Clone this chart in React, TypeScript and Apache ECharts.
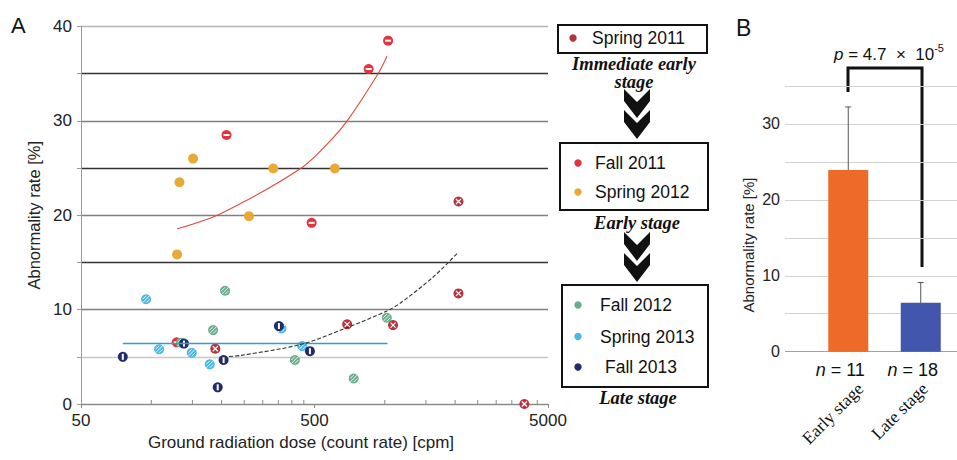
import React, { useEffect, useRef } from 'react';
import * as echarts from 'echarts';

// ---------- Panel A data: ground radiation dose [cpm] vs abnormality rate [%] ----------
const groupNames = ['Spring 2011', 'Fall 2011', 'Spring 2012', 'Fall 2012', 'Spring 2013', 'Fall 2013'];
const groupColors = ['#b8323e', '#e2343f', '#e9a935', '#6aae8e', '#4db6e2', '#232c6b'];

const spring2011Dose = [188, 690, 1085, 2068, 2068, 3960];
const spring2011Rate = [5.86, 8.44, 8.36, 21.46, 11.72, 0];
const fall2011Dose = [210, 486, 853, 1033, 128.5];
const fall2011Rate = [28.5, 19.2, 35.5, 38.5, 6.53];
const spring2012Dose = [132, 151, 333, 262, 611, 129];
const spring2012Rate = [23.5, 26.0, 24.95, 19.9, 24.95, 15.85];
const fall2012Dose = [207, 184, 134, 412, 1020, 736];
const fall2012Rate = [12.0, 7.83, 6.5, 4.66, 9.14, 2.7];
const spring2013Dose = [95, 108, 149, 178, 361, 443];
const spring2013Rate = [11.1, 5.8, 5.43, 4.2, 8.0, 6.14];
const fall2013Dose = [75.5, 138, 204, 192.5, 352, 478];
const fall2013Rate = [5.0, 6.4, 4.66, 1.77, 8.26, 5.6];

// trend lines
const earlyTrendDose = [129, 198, 436, 585, 690, 936, 1022];
const earlyTrendRate = [18.56, 20.17, 24.95, 27.9, 30.0, 35.0, 36.85];
const spring2011TrendDose = [203, 242, 443, 690, 1020, 1167, 1616, 2068];
const spring2011TrendRate = [5.0, 5.15, 6.35, 8.1, 9.85, 10.7, 13.48, 16.1];
const lateTrendDose = [75.5, 1027];
const lateTrendRate = [6.4, 6.4];

const xMinDose = 50;
const xMinorTickDoses = [100, 150, 200, 250, 300, 350, 400, 450, 1000, 1500, 2000, 2500, 3000, 3500, 4000, 4500];

// ---------- Panel B data ----------
const stageNames = ['Early stage', 'Late stage'];
const stageN = [11, 18];
const stageMean = [23.94, 6.46];
const stageSD = [8.3, 2.65];
const stageColors = ['#ee6a28', '#4256ae'];

const sans = "'Liberation Sans', Arial, Helvetica, sans-serif";
const serif = "'Liberation Serif', 'Times New Roman', serif";

const lx = (d: number) => Math.log10(d / xMinDose);
const pts = (xs: number[], ys: number[]) => xs.map((x, i) => [lx(x), ys[i]]);

const groupDose = [spring2011Dose, fall2011Dose, spring2012Dose, fall2012Dose, spring2013Dose, fall2013Dose];
const groupRate = [spring2011Rate, fall2011Rate, spring2012Rate, fall2012Rate, spring2013Rate, fall2013Rate];

const stripe = 'path://M0,10L10,0M0,5L5,0M5,10L10,5';
const marks: any[] = [
  { symbol: 'path://M0,0L10,10M10,0L0,10', size: 5, color: 'rgba(0,0,0,0)', border: '#ffffff', bw: 1.3 },
  { symbol: 'rect', size: [6, 2], color: '#ffffff', border: 'rgba(0,0,0,0)', bw: 0 },
  null,
  { symbol: stripe, size: 7, color: 'rgba(0,0,0,0)', border: 'rgba(255,255,255,0.85)', bw: 1 },
  { symbol: stripe, size: 7, color: 'rgba(0,0,0,0)', border: 'rgba(255,255,255,0.85)', bw: 1 },
  { symbol: 'rect', size: [2, 6], color: '#ffffff', border: 'rgba(0,0,0,0)', bw: 0 },
];

function buildOption(): any {
  const series: any[] = [];

  // minor ticks on the log axis
  series.push({
    type: 'custom',
    xAxisIndex: 0,
    yAxisIndex: 0,
    silent: true,
    clip: false,
    data: xMinorTickDoses.map((d) => [lx(d), 0]),
    renderItem: (_p: any, api: any) => {
      const c = api.coord([api.value(0), 0]);
      return { type: 'line', shape: { x1: c[0], y1: c[1], x2: c[0], y2: c[1] - 4 }, style: { stroke: '#888', lineWidth: 1 } };
    },
  });

  series.push({
    type: 'line', xAxisIndex: 0, yAxisIndex: 0, silent: true, symbol: 'none',
    data: pts(lateTrendDose, lateTrendRate),
    lineStyle: { color: '#2f9fd0', width: 1.5 },
  });
  series.push({
    type: 'line', xAxisIndex: 0, yAxisIndex: 0, silent: true, symbol: 'none', smooth: 0.3,
    data: pts(spring2011TrendDose, spring2011TrendRate),
    lineStyle: { color: '#333', width: 1.1, type: [4, 2] },
  });
  series.push({
    type: 'line', xAxisIndex: 0, yAxisIndex: 0, silent: true, symbol: 'none', smooth: 0.3,
    data: pts(earlyTrendDose, earlyTrendRate),
    lineStyle: { color: '#e2483c', width: 1.1 },
  });

  groupNames.forEach((name, gi) => {
    const data = pts(groupDose[gi], groupRate[gi]);
    series.push({
      type: 'scatter', name, xAxisIndex: 0, yAxisIndex: 0, symbol: 'circle', symbolSize: 10,
      data, itemStyle: { color: groupColors[gi], opacity: 1 },
    });
    const m = marks[gi];
    if (m) {
      series.push({
        type: 'scatter', name: name + ' mark', xAxisIndex: 0, yAxisIndex: 0, silent: true,
        symbol: m.symbol, symbolSize: m.size, data,
        itemStyle: { color: m.color, borderColor: m.border, borderWidth: m.bw, opacity: 1 },
      });
    }
  });

  // Panel B bars
  series.push({
    type: 'bar', xAxisIndex: 2, yAxisIndex: 2, barWidth: 40,
    data: stageMean.map((v, i) => ({ value: v, itemStyle: { color: stageColors[i] } })),
  });
  series.push({
    type: 'custom', xAxisIndex: 2, yAxisIndex: 2, silent: true, clip: false,
    data: stageMean.map((v, i) => [i, v - stageSD[i], v + stageSD[i]]),
    renderItem: (_p: any, api: any) => {
      const x = api.value(0);
      const top = api.coord([x, api.value(2)]);
      const bot = api.coord([x, api.value(1)]);
      const st = { stroke: '#555', lineWidth: 1 };
      return {
        type: 'group',
        children: [
          { type: 'line', shape: { x1: top[0], y1: top[1], x2: bot[0], y2: bot[1] }, style: st },
          { type: 'line', shape: { x1: top[0] - 3, y1: top[1], x2: top[0] + 3, y2: top[1] }, style: st },
          { type: 'line', shape: { x1: bot[0] - 3, y1: bot[1], x2: bot[0] + 3, y2: bot[1] }, style: st },
        ],
      };
    },
  });

  const chevron = (cx: number, y0: number) => ({
    type: 'polygon',
    shape: { points: [[cx - 13, y0], [cx, y0 + 13], [cx + 13, y0], [cx + 13, y0 + 12], [cx, y0 + 29], [cx - 13, y0 + 12]] },
    style: { fill: '#111' },
  });
  const txt = (x: number, y: number, text: string, extra: any = {}) => ({
    type: 'text', x, y,
    style: { text, fontSize: 17.5, fontFamily: sans, fill: '#111', align: 'left', verticalAlign: 'middle', ...extra },
  });
  const dot = (x: number, y: number, gi: number) => ({
    type: 'circle', shape: { cx: x, cy: y, r: 3.7 }, style: { fill: groupColors[gi] },
  });
  const box = (x: number, y: number, w: number, h: number) => ({
    type: 'rect', shape: { x, y, width: w, height: h }, style: { fill: '#fff', stroke: '#111', lineWidth: 2 },
  });
  const stageTxt = (x: number, y: number, text: string) =>
    txt(x, y, text, { fontFamily: serif, fontStyle: 'italic', fontWeight: 'bold', fontSize: 18.5, align: 'center' });

  const graphic: any[] = [
    txt(11, 25, 'A', { fontSize: 22 }),
    txt(736, 28, 'B', { fontSize: 23 }),
    txt(301, 442, 'Ground radiation dose (count rate) [cpm]', { fontSize: 17, align: 'center', fill: '#222' }),
    {
      type: 'text', x: 748, y: 245, rotation: Math.PI / 2,
      style: { text: 'Abnormality rate [%]', fontSize: 15, fontFamily: sans, fill: '#222', align: 'center', verticalAlign: 'middle' },
    },
    // legend boxes
    box(558, 25, 149, 28),
    dot(573, 38, 0), txt(592, 38, groupNames[0]),
    stageTxt(634, 63.5, 'Immediate early'),
    stageTxt(634, 82, 'stage'),
    chevron(637, 89), chevron(637, 110),
    box(560, 143, 148, 67),
    dot(578, 163, 1), txt(595, 163, groupNames[1]),
    dot(578, 192, 2), txt(595, 192, groupNames[2]),
    stageTxt(637, 223, 'Early stage'),
    chevron(637, 232), chevron(637, 253),
    box(562, 285, 146, 102),
    dot(578, 305, 3), txt(600, 305, groupNames[3]),
    dot(578, 336.5, 4), txt(600, 336.5, groupNames[4]),
    dot(578, 367, 5), txt(605, 367, groupNames[5]),
    stageTxt(638, 398, 'Late stage'),
    // significance bracket
    {
      type: 'polyline',
      shape: { points: [[848, 92], [848, 68], [922, 68], [922, 267]] },
      style: { stroke: '#111', lineWidth: 3, fill: 'none' },
    },
    {
      type: 'text', x: 889, y: 54,
      style: {
        text: '{i|p} = 4.7  \u00d7  10{s|-5}',
        fontSize: 17, fontFamily: sans, fill: '#111', align: 'center', verticalAlign: 'middle',
        rich: {
          i: { fontStyle: 'italic', fontSize: 17, fontFamily: sans, fill: '#111' },
          s: { fontSize: 11, fontFamily: sans, fill: '#111', padding: [0, 0, 12, 0] },
        },
      },
    },
  ];

  const splitA = ['#999', '#c8c8c8', '#808080', '#333333', '#808080', '#333333', '#808080', '#333333', '#b5b5b5'];
  const splitB = ['#a0a0a0', '#d2d2d2', '#d2d2d2', '#d2d2d2', '#d2d2d2', '#d2d2d2', '#d2d2d2', '#d2d2d2'];

  return {
    animation: false,
    backgroundColor: '#fff',
    textStyle: { fontFamily: sans },
    grid: [
      { left: 81, right: 409, top: 26.5, bottom: 56 },
      { left: 785, right: 0, top: 86, bottom: 108.3 },
      { left: 812, width: 148, top: 86, bottom: 108.3 },
      { left: 828, width: 148, top: 86, bottom: 108.3 },
    ],
    xAxis: [
      {
        type: 'value', gridIndex: 0, min: 0, max: 2, interval: 1,
        axisLine: { show: true, onZero: false, lineStyle: { color: '#888', width: 1 } },
        axisTick: { show: true, length: 4, lineStyle: { color: '#888' } },
        splitLine: { show: false },
        axisLabel: {
          fontSize: 17, color: '#222', margin: 8,
          formatter: (v: number) => String(Math.round(xMinDose * Math.pow(10, v))),
        },
      },
      { type: 'value', gridIndex: 1, min: 0, max: 1, show: false },
      {
        type: 'category', gridIndex: 2, data: stageNames,
        axisLine: { show: false }, axisTick: { show: false },
        axisLabel: {
          interval: 0, hideOverlap: false,
          fontSize: 18, color: '#111', margin: 9, padding: [0, 16, 0, 0],
          formatter: (_v: string, i: number) => `{i|n} = ${stageN[i]}`,
          rich: { i: { fontStyle: 'italic', fontSize: 18, color: '#111' } },
        },
      },
      {
        type: 'category', gridIndex: 3, data: stageNames,
        axisLine: { show: false }, axisTick: { show: false },
        axisLabel: { interval: 0, fontSize: 17.5, fontFamily: serif, color: '#111', rotate: 45, margin: 34 },
      },
    ],
    yAxis: [
      {
        type: 'value', gridIndex: 0, min: 0, max: 40, interval: 5,
        name: 'Abnormality rate [%]', nameLocation: 'middle', nameGap: 39,
        nameTextStyle: { fontSize: 16.5, color: '#222', fontFamily: sans },
        axisLine: { show: true, lineStyle: { color: '#999' } },
        axisTick: { show: true, length: 4, lineStyle: { color: '#999' } },
        axisLabel: { fontSize: 17, color: '#222', margin: 9, formatter: (v: number) => (v % 10 === 0 ? String(v) : '') },
        splitLine: { show: true, lineStyle: { color: splitA, width: 1.3 } },
      },
      {
        type: 'value', gridIndex: 1, min: 0, max: 35, interval: 5,
        axisLine: { show: false }, axisTick: { show: false },
        axisLabel: { fontSize: 16, color: '#222', margin: 5, formatter: (v: number) => (v % 10 === 0 ? String(v) : '') },
        splitLine: { show: true, lineStyle: { color: splitB, width: 1 } },
      },
      { type: 'value', gridIndex: 2, min: 0, max: 35, show: false },
      { type: 'value', gridIndex: 3, min: 0, max: 35, show: false },
    ],
    series,
    graphic,
  };
}

export default function App() {
  const ref = useRef<HTMLDivElement>(null);
  useEffect(() => {
    if (!ref.current) return;
    const chart = echarts.init(ref.current, null, { renderer: 'svg' });
    chart.setOption(buildOption());
    return () => chart.dispose();
  }, []);
  return (
    <div
      ref={ref}
      style={{ position: 'fixed', left: 0, top: 0, width: 957, height: 460, background: '#fff' }}
    />
  );
}
